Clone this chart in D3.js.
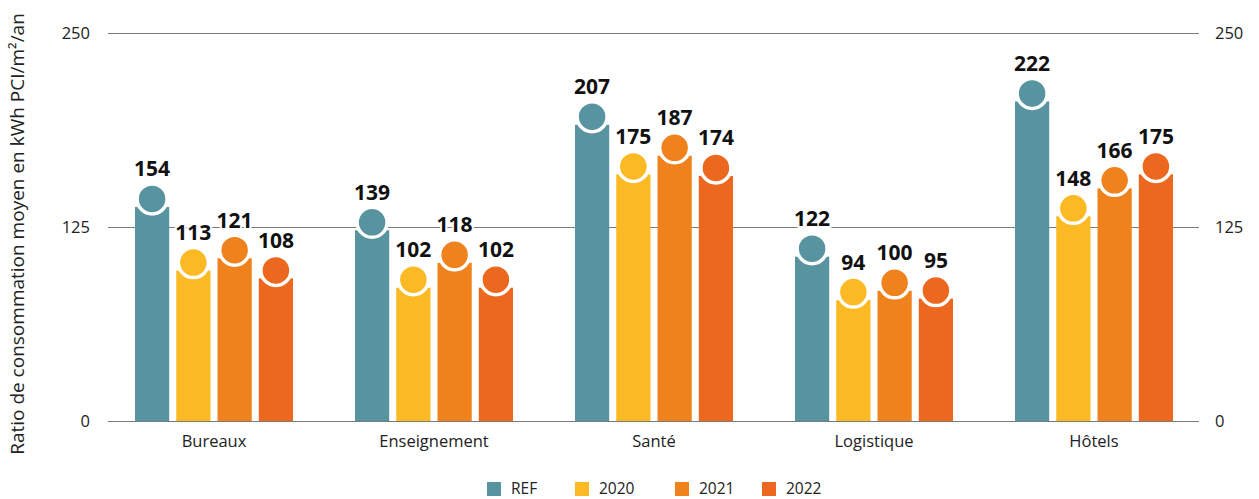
<!DOCTYPE html>
<html><head><meta charset="utf-8">
<script src="https://cdn.jsdelivr.net/npm/d3@7"></script>
<style>body{margin:0;background:#fff}</style>
</head><body><svg id="c" width="1259" height="499"></svg>
<script>
const categories = ["Bureaux","Enseignement","Santé","Logistique","Hôtels"];
const seriesNames = ["REF","2020","2021","2022"];
const REF = [154,139,207,122,222];
const Y2020 = [113,102,175,94,148];
const Y2021 = [121,118,187,100,166];
const Y2022 = [108,102,174,95,175];
const yTicks = [0,125,250];
const colors = ["#5893a0","#fbb923","#ef821c","#ec681e"];
const series = [REF,Y2020,Y2021,Y2022];

const svg = d3.select("#c");
const font = "'Open Sans', sans-serif";
const y = d3.scaleLinear().domain([0,250]).range([421,33]);
const x0 = d3.scaleBand().domain(categories).range([104,1204]).paddingInner(0).paddingOuter(0);
const x1 = d3.scaleBand().domain(seriesNames).range([0,158]).paddingInner(7/41).paddingOuter(0);
const gx0 = 108, gx1 = 1199;

// gridlines
svg.append("g").selectAll("line").data(yTicks).join("line")
  .attr("x1",gx0).attr("x2",gx1).attr("y1",d=>y(d)+0.5).attr("y2",d=>y(d)+0.5)
  .attr("stroke","#7a7a7a").attr("stroke-width",1);

// tick labels
svg.append("g").selectAll("text").data(yTicks).join("text")
  .attr("x",90).attr("y",d=>y(d)).attr("dy","0.35em").attr("text-anchor","end")
  .attr("font-family",font).attr("font-size",16.5).attr("fill","#222").text(d=>d);
svg.append("g").selectAll("text").data(yTicks).join("text")
  .attr("x",1215).attr("y",d=>y(d)).attr("dy","0.35em").attr("text-anchor","start")
  .attr("font-family",font).attr("font-size",16.5).attr("fill","#222").text(d=>d);

// axis title
svg.append("text").attr("transform","translate(24,234) rotate(-90)")
  .attr("text-anchor","middle").attr("font-family",font).attr("font-size",19).attr("fill","#222")
  .text("Ratio de consommation moyen en kWh PCI/m²/an");

// category labels
svg.append("g").selectAll("text").data(categories).join("text")
  .attr("x",d=>x0(d)+x0.bandwidth()/2).attr("y",441).attr("dy","0.35em").attr("text-anchor","middle")
  .attr("font-family",font).attr("font-size",16.5).attr("fill","#222").text(d=>d);

const data = [];
categories.forEach((c,i)=>seriesNames.forEach((s,j)=>data.push({c,s,j,v:series[j][i]})));
const gOff = (x0.bandwidth()-158)/2;
const cx = d=>x0(d.c)+gOff+x1(d.s)+x1.bandwidth()/2;

const g = svg.append("g");
g.selectAll("rect").data(data).join("rect")
  .attr("x",d=>x0(d.c)+gOff+x1(d.s)).attr("width",x1.bandwidth())
  .attr("y",d=>y(d.v)+25).attr("height",d=>y(0)-y(d.v)-25)
  .attr("fill",d=>colors[d.j]);
g.selectAll("circle").data(data).join("circle")
  .attr("cx",cx).attr("cy",d=>y(d.v)+17).attr("r",15)
  .attr("fill",d=>colors[d.j]).attr("stroke","#fff").attr("stroke-width",3.5);
g.selectAll("text").data(data).join("text")
  .attr("x",cx).attr("y",d=>y(d.v)-5.5).attr("text-anchor","middle")
  .attr("font-family",font).attr("font-weight","bold").attr("font-size",21).attr("fill","#111")
  .attr("stroke","#fff").attr("stroke-width",4).attr("paint-order","stroke")
  .text(d=>d.v);

// legend
const legX = [487,575,675,762];
const lg = svg.append("g").selectAll("g").data(seriesNames).join("g")
  .attr("transform",(d,i)=>`translate(${legX[i]},482)`);
lg.append("rect").attr("width",14).attr("height",14).attr("fill",(d,i)=>colors[i]);
lg.append("text").attr("x",24).attr("y",7).attr("dy","0.35em")
  .attr("font-family",font).attr("font-size",15.5).attr("fill","#222").text(d=>d);
</script></body></html>
